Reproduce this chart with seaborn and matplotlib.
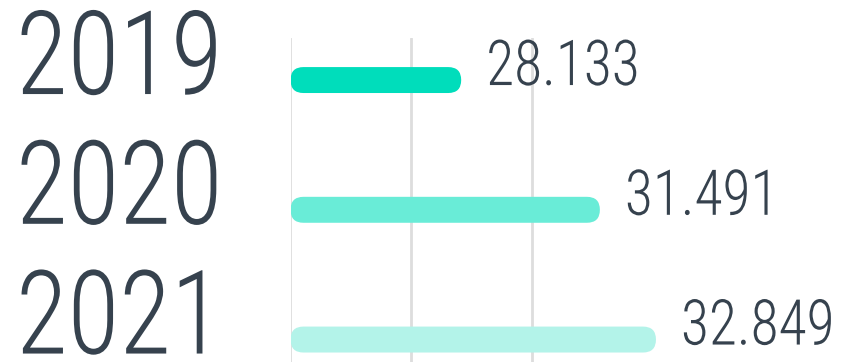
import matplotlib
matplotlib.use("Agg")
import matplotlib.pyplot as plt
from matplotlib.patches import FancyBboxPatch
from matplotlib.patheffects import AbstractPathEffect
from matplotlib.transforms import Affine2D
import seaborn as sns
import pandas as pd

years = ["2019", "2020", "2021"]
values = [28.133, 31.491, 32.849]
bar_colors = ["#00ddbb", "#69ecd7", "#b3f3e9"]
text_color = "#36424e"
grid_color = "#dddddd"


class Narrow(AbstractPathEffect):
    """Squeeze glyph outlines horizontally around the text origin."""

    def __init__(self, sx):
        super().__init__()
        self.sx = sx

    def draw_path(self, renderer, gc, tpath, affine, rgbFace=None):
        renderer.draw_path(gc, tpath, Affine2D().scale(self.sx, 1) + affine, rgbFace)


sns.set_theme(style="white")
plt.rcParams["font.family"] = ["Roboto Condensed", "DejaVu Sans"]

W, H = 843, 362
fig = plt.figure(figsize=(W / 100, H / 100), dpi=100)
ax_left, ax_top = 290.5, 38.0
ax = fig.add_axes([ax_left / W, 0, (W - ax_left) / W, (H - ax_top) / H])

df = pd.DataFrame({"year": years, "value": values})
sns.barplot(data=df, x="value", y="year", hue="year", palette=bar_colors,
            saturation=1, legend=False, orient="h", width=0.2, ax=ax, zorder=3)

px_per_x = 41.3
x0 = 24.0
ax.set_xlim(x0, x0 + (W - ax_left) / px_per_x)
row_px = 129.75
top_off = 42.05
ax.set_ylim(2 + (H - 339.55) / row_px, -top_off / row_px)

grid_step = 120.7 / px_per_x
ax.set_xticks([x0 + k * grid_step for k in range(3)])
ax.xaxis.grid(True, color=grid_color, linewidth=2, zorder=0)
ax.yaxis.grid(False)
ax.tick_params(length=0, labelbottom=False, labelleft=False)
ax.set_xlabel("")
ax.set_ylabel("")
for s in ax.spines.values():
    s.set_visible(False)

# replace the square bars with pill shapes that start at the axis edge
aspect = px_per_x / row_px
for p in list(ax.patches):
    y = p.get_y()
    h = p.get_height()
    right = p.get_x() + p.get_width()
    r = abs(h) * row_px / 2 / px_per_x
    pill = FancyBboxPatch((x0, y), right - x0, h,
                          boxstyle=f"round,pad=0,rounding_size={r}",
                          mutation_aspect=aspect, facecolor=p.get_facecolor(),
                          edgecolor="none", zorder=3)
    p.remove()
    ax.add_patch(pill)

squeeze = Narrow(0.91)
year_x = (16 - ax_left) / (W - ax_left)
for i, (yr, v) in enumerate(zip(years, values)):
    ax.annotate(yr, xy=(year_x, i), xycoords=("axes fraction", "data"),
                xytext=(0, -14 * 0.72), textcoords="offset points",
                ha="left", va="baseline", fontsize=84, fontweight=300,
                color=text_color, path_effects=[squeeze], annotation_clip=False)
    ax.annotate(f"{v:.3f}", xy=(v, i), xytext=(25 * 0.72, -5 * 0.72),
                textcoords="offset points", ha="left", va="baseline",
                fontsize=45.5, fontweight=300, color=text_color,
                path_effects=[squeeze], annotation_clip=False)

fig.savefig("out.png", dpi=100)
